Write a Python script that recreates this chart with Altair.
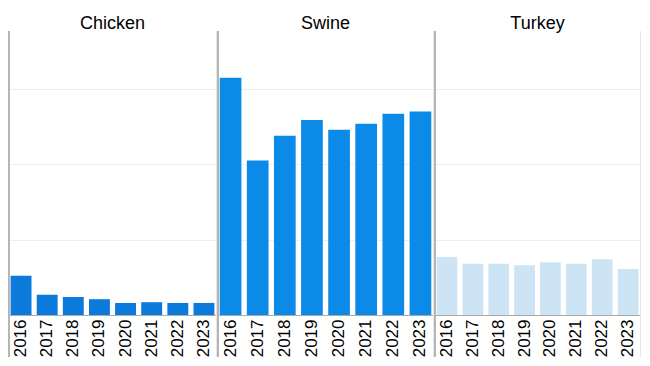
import altair as alt
import pandas as pd

years = ["2016", "2017", "2018", "2019", "2020", "2021", "2022", "2023"]
species = ["Chicken", "Swine", "Turkey"]
chicken = [52, 27, 24, 21, 16, 17, 16, 16]
swine = [315, 205, 238, 259, 246, 254, 267, 270]
turkey = [77, 68, 68, 66, 70, 68, 74, 61]
colors = ["#0b7adb", "#0b8ae8", "#cde4f5"]
widths = [209, 217, 207]

H = 284


def panel(name, vals, color, W):
    df = pd.DataFrame({"year": years, "value": vals})
    bars = alt.Chart(df).mark_bar(color=color).encode(
        x=alt.X("year:N", title=None,
                scale=alt.Scale(paddingInner=0.2, paddingOuter=0.1),
                axis=alt.Axis(labelAngle=270, labelFontSize=17, labelColor="#000",
                              labelFont="Liberation Sans", ticks=False, labelPadding=4,
                              domainColor="#aaaaaa")),
        y=alt.Y("value:Q", title=None,
                scale=alt.Scale(domain=[0, 377], nice=False),
                axis=alt.Axis(labels=False, ticks=False, domain=False, values=[100, 200, 300],
                              gridColor="#eeeeee")),
    )
    right_line = alt.Chart(df).mark_rule(color="#e6e6e6", strokeWidth=1).encode(
        x=alt.value(W - 0.5), y=alt.value(0), y2=alt.value(H + 42)
    )
    left_line = alt.Chart(df).mark_rule(color="#b5b5b5", strokeWidth=1.5).encode(
        x=alt.value(0.75), y=alt.value(0), y2=alt.value(H + 42)
    )
    return alt.layer(bars, right_line, left_line).properties(
        width=W, height=H,
        title=alt.TitleParams(name, fontSize=18, font="Liberation Sans", fontWeight="normal",
                              color="#000", offset=-3, anchor="middle"),
    )


chart = alt.hconcat(
    *[panel(n, v, c, w) for n, v, c, w in zip(species, [chicken, swine, turkey], colors, widths)],
    spacing=0,
).properties(padding={"top": 7, "left": 0, "right": 0, "bottom": 0}).configure_view(stroke=None)

chart.save("out.html", embed_options={"renderer": "svg", "actions": False})
